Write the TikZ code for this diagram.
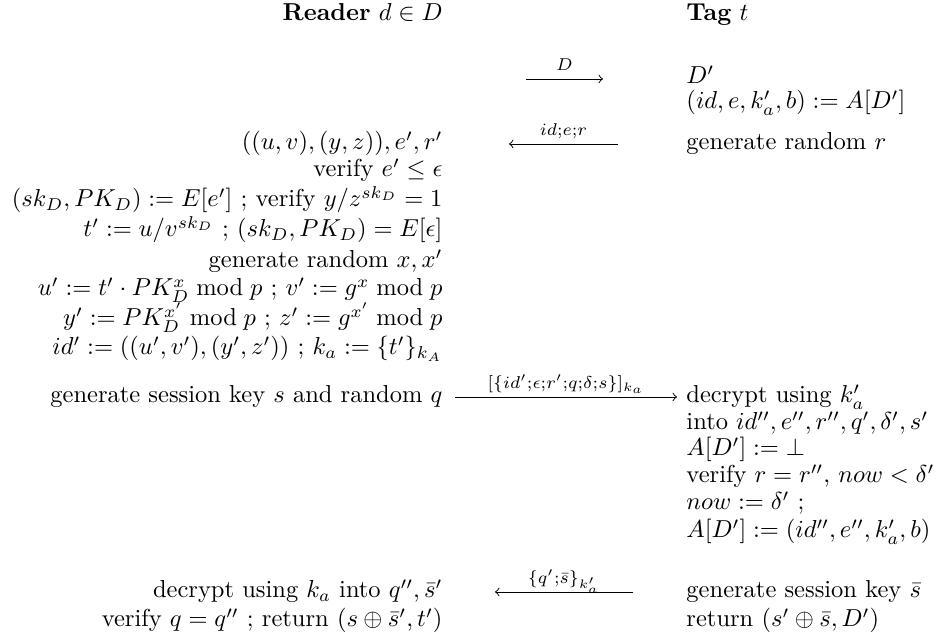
\documentclass[tikz,border=0pt]{standalone}
\usepackage{amsmath}
\usepackage{tikz}

\begin{document}
\begin{tikzpicture}[
    x=0.408pt, y=-0.408pt,
    rd/.style={anchor=base east, inner sep=0pt},
    tg/.style={anchor=base west, inner sep=0pt},
    msg/.style={->, line width=0.4pt},
    lbl/.style={anchor=base, yshift=3.4pt, inner sep=0pt},
]
\useasboundingbox (0,0) rectangle (936,641);
% headers
\node[rd] (hdr) at (443,21) {\textbf{Reader} $d \in D$};
\node[tg] (hdt) at (686,21) {\textbf{Tag} $t$};
% reader side
\node[rd] (rd0) at (443,150) {$((u,v),(y,z)),e',r'$};
\node[rd] (rd1) at (443,177) {verify $e' \leq \epsilon$};
\node[rd] (rd2) at (443,207) {$(sk_D,PK_D) := E[e']$ ; verify $y/z^{sk_D} = 1$};
\node[rd] (rd3) at (443,237) {$t' := u/v^{sk_D}$ ; $(sk_D,PK_D) = E[\epsilon]$};
\node[rd] (rd4) at (443,268) {generate random $x,x'$};
\node[rd] (rd5) at (443,296) {$u' := t' \cdot PK_D^x \bmod p$ ; $v' := g^x \bmod p$};
\node[rd] (rd6) at (443,326) {$y' := PK_D^{x'} \bmod p$ ; $z' := g^{x'} \bmod p$};
\node[rd] (rd7) at (443,355) {$id' := ((u',v'),(y',z'))$ ; $k_a := \{t'\}_{k_A}$};
\node[rd] (rd8) at (443,403) {generate session key $s$ and random $q$};
\node[rd] (rd9) at (443,598) {decrypt using $k_a$ into $q'',\bar{s}'$};
\node[rd] (rd10) at (443,627) {verify $q = q''$ ; return $(s \oplus \bar{s}',t')$};
% tag side
\node[tg] (tg0) at (686,84) {$D'$};
\node[tg] (tg1) at (686,109) {$(id,e,k'_a,b) := A[D']$};
\node[tg] (tg2) at (686,150) {generate random $r$};
\node[tg] (tg3) at (686,403) {decrypt using $k'_a$};
\node[tg] (tg4) at (686,430) {into $id'',e'',r'',q',\delta',s'$};
\node[tg] (tg5) at (686,456) {$A[D'] := \bot$};
\node[tg] (tg6) at (686,483) {verify $r = r''$, $now < \delta'$};
\node[tg] (tg7) at (686,510) {$now := \delta'$ ;};
\node[tg] (tg8) at (686,538) {$A[D'] := (id'',e'',k'_a,b)$};
\node[tg] (tg9) at (686,598) {generate session key $\bar{s}$};
\node[tg] (tg10) at (686,627) {return $(s' \oplus \bar{s},D')$};
% messages
\coordinate (m1s) at (526,79);  \coordinate (m1e) at (603,79);
\coordinate (m2s) at (618,144); \coordinate (m2e) at (509,144);
\coordinate (m3s) at (455,397); \coordinate (m3e) at (677,397);
\coordinate (m4s) at (633,592); \coordinate (m4e) at (495,592);
\draw[msg] (m1s) -- node[lbl] (l1) {$\scriptstyle D$} (m1e);
\draw[msg] (m2s) -- node[lbl] (l2) {$\scriptstyle id;e;r$} (m2e);
\draw[msg] (m3s) -- node[lbl] (l3) {$\scriptstyle [\{id';\epsilon;r';q;\delta;s\}]_{k_a}$} (m3e);
\draw[msg] (m4s) -- node[lbl] (l4) {$\scriptstyle \{q';\bar{s}\}_{k'_a}$} (m4e);
\end{tikzpicture}
\end{document}
